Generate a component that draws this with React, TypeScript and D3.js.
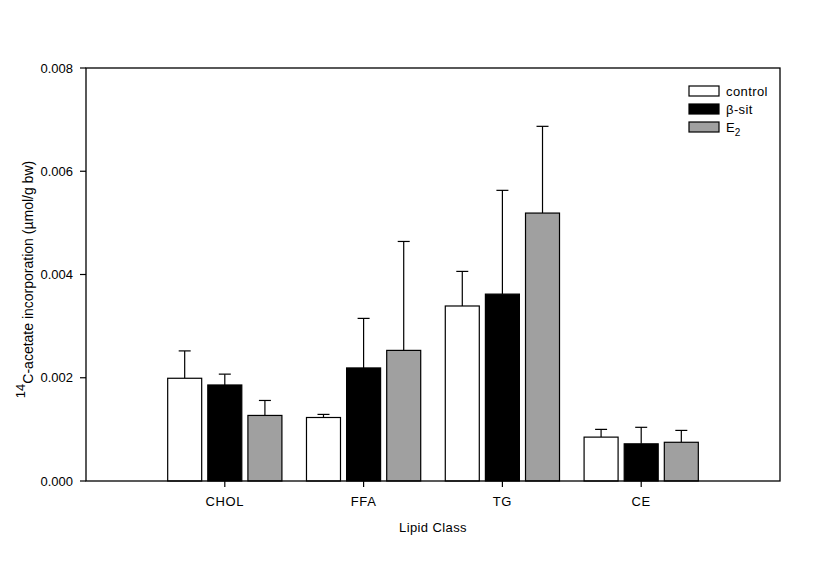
import React from "react";
import * as d3 from "d3";

const categories = ["CHOL", "FFA", "TG", "CE"];
const seriesNames = ["control", "β-sit", "E2"];
const controlMeans = [0.00199, 0.00123, 0.00339, 0.00085];
const controlErr = [0.00053, 0.00006, 0.00067, 0.00015];
const betaSitMeans = [0.00186, 0.00219, 0.00362, 0.00072];
const betaSitErr = [0.00021, 0.00096, 0.00201, 0.00032];
const e2Means = [0.00127, 0.00253, 0.00519, 0.00075];
const e2Err = [0.00029, 0.00211, 0.00168, 0.00023];
const yTicks = [0, 0.002, 0.004, 0.006, 0.008];

const fills = ["#ffffff", "#000000", "#a0a0a0"];

export default function App() {
  const W = 817, H = 577;
  const left = 86, right = 780, top = 68, bottom = 481;
  const x = d3.scaleLinear().domain([0, 5]).range([left, right]);
  const y = d3.scaleLinear().domain([0, 0.008]).range([bottom, top]);
  const unit = x(1) - x(0);
  const barW = unit * 0.245;
  const offset = unit * 0.289;
  const means = [controlMeans, betaSitMeans, e2Means];
  const errs = [controlErr, betaSitErr, e2Err];
  const font = "'Liberation Sans', Arial, sans-serif";
  const cap = 6;

  return (
    <svg width={W} height={H} style={{ position: "absolute", left: 0, top: 0, background: "#fff" }} fontFamily={font}>
      <rect x={0} y={0} width={W} height={H} fill="#fff" />
      {categories.map((c, i) =>
        means.map((m, s) => {
          const cx = x(i + 1) + (s - 1) * offset;
          const yt = y(m[i]);
          const ye = y(m[i] + errs[s][i]);
          return (
            <g key={`e-${c}-${s}`} stroke="#000" strokeWidth={1.2}>
              <line x1={cx} x2={cx} y1={yt} y2={ye} />
              <line x1={cx - cap} x2={cx + cap} y1={ye} y2={ye} />
            </g>
          );
        })
      )}
      {categories.map((c, i) =>
        means.map((m, s) => {
          const cx = x(i + 1) + (s - 1) * offset;
          return (
            <rect
              key={`b-${c}-${s}`}
              x={cx - barW / 2}
              y={y(m[i])}
              width={barW}
              height={bottom - y(m[i])}
              fill={fills[s]}
              stroke="#000"
              strokeWidth={1.2}
            />
          );
        })
      )}
      <rect x={left} y={top} width={right - left} height={bottom - top} fill="none" stroke="#000" strokeWidth={1.3} />
      {yTicks.map((t) => (
        <g key={`yt-${t}`}>
          <line x1={left - 6} x2={left} y1={y(t)} y2={y(t)} stroke="#000" strokeWidth={1.2} />
          <text x={left - 13} y={y(t)} dy="0.35em" textAnchor="end" fontSize={13}>
            {d3.format(".3f")(t)}
          </text>
        </g>
      ))}
      {categories.map((c, i) => (
        <g key={`xt-${c}`}>
          <line x1={x(i + 1)} x2={x(i + 1)} y1={bottom} y2={bottom + 6} stroke="#000" strokeWidth={1.2} />
          <text x={x(i + 1)} y={506} textAnchor="middle" fontSize={13} letterSpacing={0.6}>
            {c}
          </text>
        </g>
      ))}
      <text x={(left + right) / 2} y={532} textAnchor="middle" fontSize={13} letterSpacing={0.4}>
        Lipid Class
      </text>
      <text transform={`translate(33, ${(top + bottom) / 2 + 5}) rotate(-90)`} textAnchor="middle" fontSize={14}>
        <tspan fontSize={13} dy="-8">14</tspan>
        <tspan dy="8">C-acetate incorporation (µmol/g bw)</tspan>
      </text>
      {seriesNames.map((n, s) => {
        const ly = 86 + s * 18;
        return (
          <g key={`lg-${n}`}>
            <rect x={689} y={ly} width={30} height={10} fill={fills[s]} stroke="#000" strokeWidth={1.2} />
            {n === "E2" ? (
              <text x={726} y={ly + 10} fontSize={13}>
                E<tspan fontSize={10} dy="4">2</tspan>
              </text>
            ) : (
              <text x={726} y={ly + 10} fontSize={13} letterSpacing={0.4}>
                {n}
              </text>
            )}
          </g>
        );
      })}
    </svg>
  );
}
